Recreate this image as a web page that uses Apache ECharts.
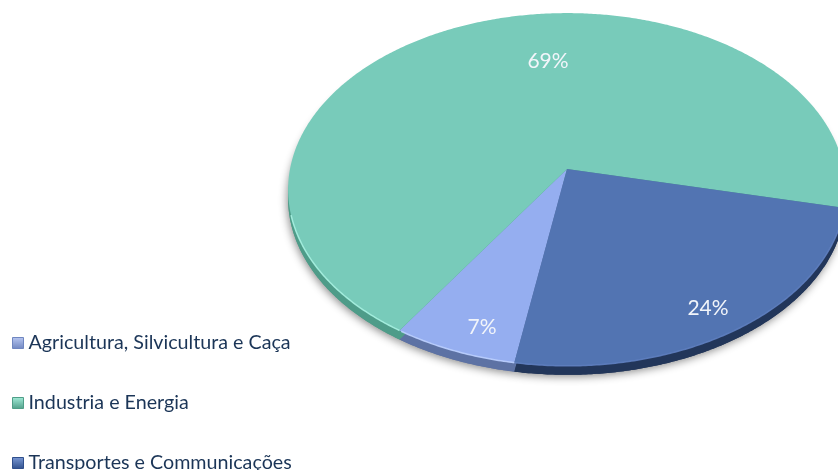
<!DOCTYPE html>
<html>
<head>
<meta charset="utf-8">
<style>
  html, body { margin: 0; padding: 0; background: #fff; overflow: hidden; }
  #chart { width: 838px; height: 470px; }
</style>
<script src="https://cdn.jsdelivr.net/npm/echarts@6/dist/echarts.min.js"></script>
</head>
<body>
<div id="chart"></div>
<script>
var categories = ['Agricultura, Silvicultura e Caça', 'Industria e Energia', 'Transportes e Communicações'];
var shares = [6.5, 69.3, 24.2];

// colours per slice: top face, side wall, rim highlight
var faceColors = ['#95aef0', '#78cbba', '#5274b2'];
var wallColors = ['#5d72a4', '#4e9c89', '#22365a'];
var rimColors = ['#bcd0ff', '#a8f2e2', '#5f80c0'];
var legendTop = ['#b9c8f2', '#a4ecd9', '#7c9ad6'];
var legendBottom = ['#6f86c0', '#4f9e88', '#2f4f8c'];
var labelPos = [[482, 327], [548, 61], [708, 308]];

// perspective pie: apex of the slices, radii and tilt
var cx = 567, cy = 169, rx = 277, ry = 174, k = 0.116;
var depth = 9;
var startDeg = 99.7;

function project(deg, dy) {
    var a = deg * Math.PI / 180;
    var u = Math.cos(a), v = Math.sin(a);
    var d = 1 - k * v;
    return [cx + rx * u / d, cy + ry * v / d + (dy || 0)];
}

function slicePoints(from, to, dy) {
    var pts = [[cx, cy + (dy || 0)]];
    for (var t = from; t < to; t += 0.5) {
        pts.push(project(t, dy));
    }
    pts.push(project(to, dy));
    return pts;
}

function rimPoints(from, to) {
    var pts = [];
    for (var t = from; t <= to; t += 0.5) {
        // only the near half of the rim catches the light
        if (Math.sin(t * Math.PI / 180) > 0.25) {
            pts.push(project(t));
        }
    }
    return pts;
}

function makeSeries(name, idx) {
    var before = 0;
    for (var i = 0; i < idx; i++) before += shares[i];
    return {
        name: name,
        type: 'custom',
        coordinateSystem: 'none',
        silent: true,
        itemStyle: { color: faceColors[idx] },
        data: [[shares[idx]]],
        renderItem: function (params, api) {
            var value = api.value(0);
            var from = startDeg + before * 3.6;
            var to = from + value * 3.6;
            var children = [
                {
                    type: 'polygon', z2: 0,
                    shape: { points: slicePoints(from, to, depth) },
                    style: { fill: wallColors[idx], shadowColor: 'rgba(0,0,0,0.45)', shadowBlur: 8, shadowOffsetX: -1, shadowOffsetY: 2 }
                },
                {
                    type: 'polygon', z2: 1,
                    shape: { points: slicePoints(from, to, depth) },
                    style: { fill: wallColors[idx] }
                },
                {
                    type: 'polygon', z2: 2,
                    shape: { points: slicePoints(from, to, 0) },
                    style: { fill: faceColors[idx] }
                },
                {
                    type: 'text', z2: 4,
                    style: {
                        text: Math.round(value) + '%',
                        x: labelPos[idx][0], y: labelPos[idx][1],
                        fill: '#f2f5fa',
                        font: '21px Lato',
                        textAlign: 'center', textVerticalAlign: 'middle'
                    }
                }
            ];
            var rim = rimPoints(from, to);
            if (rim.length > 1) {
                children.push({
                    type: 'polyline', z2: 3,
                    shape: { points: rim },
                    style: { fill: null, stroke: rimColors[idx], lineWidth: 1.5, opacity: 0.9 }
                });
            }
            return { type: 'group', children: children };
        }
    };
}

var myChart = echarts.init(document.getElementById('chart'), null, { renderer: 'canvas' });

option = {
    animation: false,
    backgroundColor: '#fff',
    legend: {
        orient: 'vertical',
        left: 12,
        top: 333,
        height: 200,
        padding: 0,
        itemWidth: 11,
        itemHeight: 11,
        itemGap: 40,
        selectedMode: false,
        textStyle: { color: '#1b3557', fontFamily: 'Lato', fontSize: 19.7 },
        data: categories.map(function (name, i) {
            return {
                name: name,
                icon: 'rect',
                itemStyle: {
                    color: new echarts.graphic.LinearGradient(0, 0, 0, 1, [
                        { offset: 0, color: legendTop[i] },
                        { offset: 1, color: legendBottom[i] }
                    ]),
                    borderColor: legendBottom[i],
                    borderWidth: 1
                }
            };
        })
    },
    series: categories.map(makeSeries)
};

myChart.setOption(option);
</script>
</body>
</html>
